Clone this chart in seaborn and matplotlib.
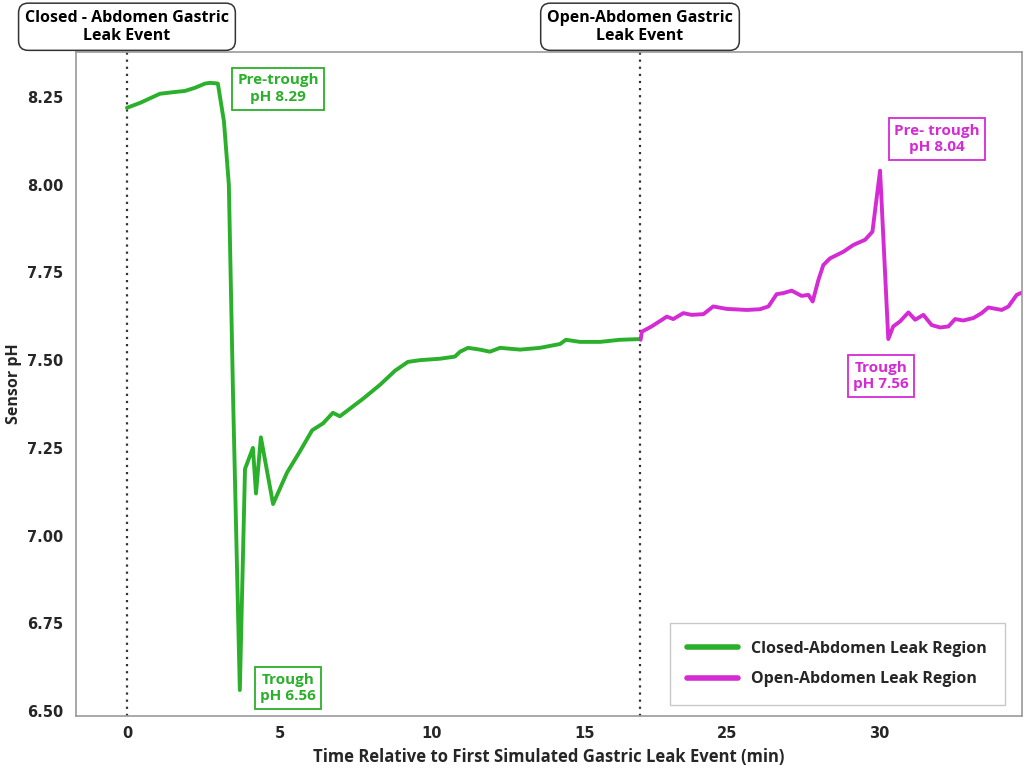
import numpy as np
import pandas as pd
import matplotlib.pyplot as plt
import matplotlib.transforms as mtransforms
import seaborn as sns

# =========================
# data
# =========================
closed_time = [0.00, 0.43, 1.08, 1.57, 1.90, 2.23, 2.56, 2.72, 2.89, 2.98, 3.18, 3.34,
               3.48, 3.70, 3.87, 4.13, 4.23, 4.39, 4.79, 5.25, 5.67, 6.07, 6.43, 6.75,
               6.98, 7.74, 8.30, 8.79, 9.21, 9.61, 10.26, 10.75, 10.92, 11.18, 11.57,
               11.90, 12.23, 12.89, 13.54, 14.20, 14.39, 14.85, 15.51, 16.16, 16.82]
closed_ph = [8.219, 8.233, 8.259, 8.264, 8.267, 8.276, 8.288, 8.290, 8.289, 8.288, 8.18, 8.00,
             7.39, 6.56, 7.19, 7.25, 7.12, 7.28, 7.09, 7.18, 7.24, 7.30, 7.32, 7.35,
             7.34, 7.39, 7.43, 7.47, 7.495, 7.50, 7.504, 7.51, 7.524, 7.535, 7.53,
             7.524, 7.535, 7.53, 7.535, 7.546, 7.558, 7.552, 7.552, 7.558, 7.56]

open_time = [22.17, 22.21, 22.53, 23.03, 23.24, 23.57, 23.84, 24.23, 24.55, 24.99, 25.65,
             26.08, 26.36, 26.63, 26.85, 27.12, 27.45, 27.67, 27.81, 28.00, 28.16, 28.38,
             28.82, 29.14, 29.53, 29.77, 30.02, 30.29, 30.45, 30.67, 30.95, 31.17, 31.44,
             31.71, 31.99, 32.26, 32.48, 32.75, 33.08, 33.35, 33.57, 34.01, 34.23, 34.50, 34.66]
open_ph = [7.558, 7.581, 7.596, 7.624, 7.617, 7.634, 7.629, 7.631, 7.653, 7.646, 7.643,
           7.645, 7.653, 7.688, 7.691, 7.698, 7.683, 7.686, 7.667, 7.729, 7.771, 7.790,
           7.809, 7.828, 7.843, 7.866, 8.04, 7.56, 7.596, 7.610, 7.636, 7.615, 7.629,
           7.600, 7.593, 7.596, 7.617, 7.613, 7.620, 7.634, 7.650, 7.643, 7.653, 7.686, 7.692]

region_names = ["Closed-Abdomen Leak Region", "Open-Abdomen Leak Region"]
event_times = [0.0, 22.15]
event_labels = ["Closed - Abdomen Gastric\nLeak Event", "Open-Abdomen Gastric\nLeak Event"]
tick_times = [0, 5, 10, 15, 25, 30]

# the time axis is broken between the end of the closed region and the open event
GAP_START = 16.82
GAP_END = 22.15


def squeeze(t):
    t = np.asarray(t, dtype=float)
    return np.where(t > GAP_START, t - (GAP_END - GAP_START), t)


df = pd.concat([
    pd.DataFrame({"time": closed_time, "ph": closed_ph, "region": region_names[0]}),
    pd.DataFrame({"time": open_time, "ph": open_ph, "region": region_names[1]}),
], ignore_index=True)
df["axis_time"] = squeeze(df["time"])

GREEN = "#2bb02b"
MAGENTA = "#d42bd4"

# =========================
# plot
# =========================
sns.set_style("white")
plt.rcParams["font.family"] = ["Open Sans", "DejaVu Sans"]

fig = plt.figure(figsize=(10.26, 7.68), dpi=100)
ax = fig.add_axes([0.0741, 0.0677, 0.9219, 0.8646])

sns.lineplot(data=df, x="axis_time", y="ph", hue="region",
             palette={region_names[0]: GREEN, region_names[1]: MAGENTA},
             linewidth=2.8, sort=False, estimator=None, ax=ax)

for t in event_times:
    ax.axvline(float(squeeze(t)), color="#333333", linestyle=(0, (1, 2.2)), linewidth=1.6, zorder=1)

ax.set_xlim(-1.67, 29.34)
ax.set_ylim(6.486, 8.378)
ax.set_yticks([6.50, 6.75, 7.00, 7.25, 7.50, 7.75, 8.00, 8.25])
ax.set_yticklabels([f"{v:.2f}" for v in ax.get_yticks()])
ax.set_xticks(squeeze(tick_times))
ax.set_xticklabels([str(t) for t in tick_times])

for lab in ax.get_xticklabels() + ax.get_yticklabels():
    lab.set_fontweight("bold")
    lab.set_fontsize(10.5)
    lab.set_family("DejaVu Sans")
ax.tick_params(axis="both", length=3, color="#999999", direction="out")
ax.tick_params(axis="y", pad=6)
ax.tick_params(axis="x", pad=4)

for s in ax.spines.values():
    s.set_color("#999999")
    s.set_linewidth(1.2)

ax.set_xlabel("Time Relative to First Simulated Gastric Leak Event (min)",
              fontsize=12, fontweight="bold", labelpad=5)
ax.set_ylabel("Sensor pH", fontsize=11.5, fontweight="bold")
ax.yaxis.set_label_coords(-0.057, 0.5)

# peak / trough callouts
callouts = [
    (4.95, 8.273, "Pre-trough\npH 8.29", GREEN),
    (5.28, 6.566, "Trough\npH 6.56", GREEN),
    (26.56, 8.13, "Pre- trough\npH 8.04", MAGENTA),
    (24.72, 7.455, "Trough\npH 7.56", MAGENTA),
]
for x, y, txt, col in callouts:
    ax.text(x, y, txt, color=col, fontsize=11, fontweight="bold", ha="center", va="center",
            linespacing=1.25,
            bbox=dict(boxstyle="square,pad=0.35", fc="white", ec=col, lw=1.3), zorder=5)

# event headers above the axes
trans = mtransforms.blended_transform_factory(ax.transData, ax.transAxes)
for t, txt in zip(event_times, event_labels):
    ax.text(float(squeeze(t)), 1.038, txt, transform=trans, ha="center", va="center",
            fontsize=11.5, fontweight="bold", color="black", linespacing=1.2,
            bbox=dict(boxstyle="round,pad=0.4,rounding_size=0.6", fc="white", ec="#333333", lw=1.1),
            zorder=6, clip_on=False)

leg = ax.legend(loc="lower right", frameon=True, fontsize=11.5, handlelength=3.2,
                borderpad=0.8, labelspacing=0.9, bbox_to_anchor=(0.985, 0.012))
for line in leg.get_lines():
    line.set_linewidth(4)
for txt in leg.get_texts():
    txt.set_fontweight("bold")
leg.get_frame().set_edgecolor("#bbbbbb")
leg.get_frame().set_boxstyle("square")

plt.savefig("out.png", dpi=100)
